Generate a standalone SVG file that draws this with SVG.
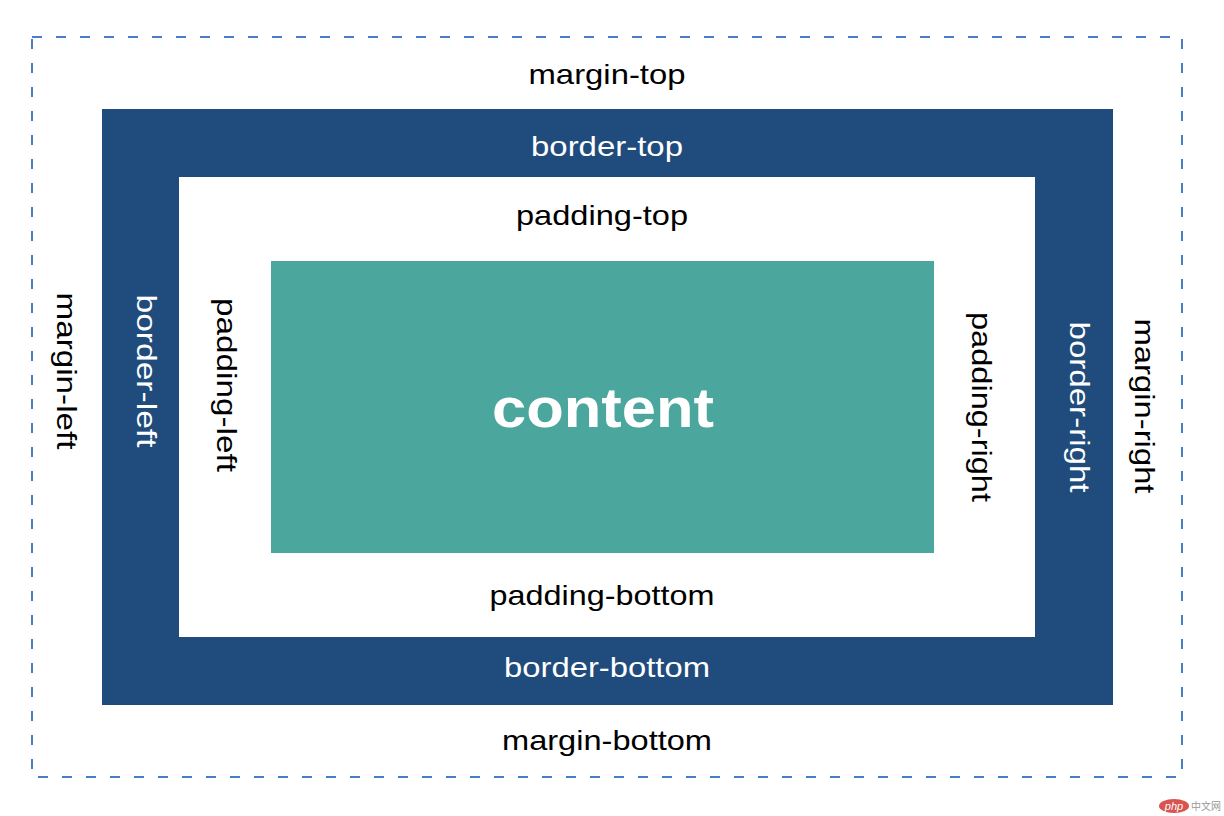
<svg xmlns="http://www.w3.org/2000/svg" width="1224" height="816" viewBox="0 0 1224 816">
<style>
.lbl{font-family:"Liberation Sans","Noto Sans",sans-serif;font-size:28px;text-anchor:middle}
.dk{fill:#000}
.wt{fill:#fff}
.content{font-family:"Liberation Sans","Noto Sans",sans-serif;font-weight:bold;font-size:56px;fill:#fff;text-anchor:middle}
</style>
<rect width="1224" height="816" fill="#fff"/>
<g id="margin">
<rect x="32" y="37" width="1150" height="740" fill="none" stroke="#4a7dc2" stroke-width="2" stroke-dasharray="10 14"/>
<text class="lbl dk" x="607" y="84" textLength="157" lengthAdjust="spacingAndGlyphs">margin-top</text>
<text class="lbl dk" x="607" y="750" textLength="210" lengthAdjust="spacingAndGlyphs">margin-bottom</text>
<text class="lbl dk" transform="translate(57,371) rotate(90)" x="0" y="0" textLength="157" lengthAdjust="spacingAndGlyphs">margin-left</text>
<text class="lbl dk" transform="translate(1135,406) rotate(90)" x="0" y="0" textLength="175" lengthAdjust="spacingAndGlyphs">margin-right</text>
</g>
<g id="border">
<rect x="102" y="109" width="1011" height="596" fill="#1f4c7c"/>
<text class="lbl wt" x="607" y="156" textLength="152" lengthAdjust="spacingAndGlyphs">border-top</text>
<text class="lbl wt" x="607" y="677" textLength="206" lengthAdjust="spacingAndGlyphs">border-bottom</text>
<text class="lbl wt" transform="translate(137,371) rotate(90)" x="0" y="0" textLength="153" lengthAdjust="spacingAndGlyphs">border-left</text>
<text class="lbl wt" transform="translate(1070,407) rotate(90)" x="0" y="0" textLength="171" lengthAdjust="spacingAndGlyphs">border-right</text>
</g>
<g id="padding">
<rect x="179" y="177" width="856" height="460" fill="#fff"/>
<text class="lbl dk" x="602" y="225" textLength="172" lengthAdjust="spacingAndGlyphs">padding-top</text>
<text class="lbl dk" x="602" y="605" textLength="225" lengthAdjust="spacingAndGlyphs">padding-bottom</text>
<text class="lbl dk" transform="translate(217,385) rotate(90)" x="0" y="0" textLength="174" lengthAdjust="spacingAndGlyphs">padding-left</text>
<text class="lbl dk" transform="translate(972,407) rotate(90)" x="0" y="0" textLength="190" lengthAdjust="spacingAndGlyphs">padding-right</text>
</g>
<g id="content">
<rect x="271" y="261" width="663" height="292" fill="#4ba69e"/>
<text class="content" x="603" y="427" textLength="222" lengthAdjust="spacingAndGlyphs">content</text>
</g>
<g id="watermark">
<ellipse cx="1174" cy="806" rx="15" ry="7" fill="#d9534f"/>
<text x="1174" y="810" font-family="Liberation Sans,sans-serif" font-size="11" font-style="italic" fill="#fff" text-anchor="middle">php</text>
<text x="1206" y="810" font-family="Noto Sans CJK SC,sans-serif" font-size="10" fill="#999" text-anchor="middle">中文网</text>
</g>
</svg>
